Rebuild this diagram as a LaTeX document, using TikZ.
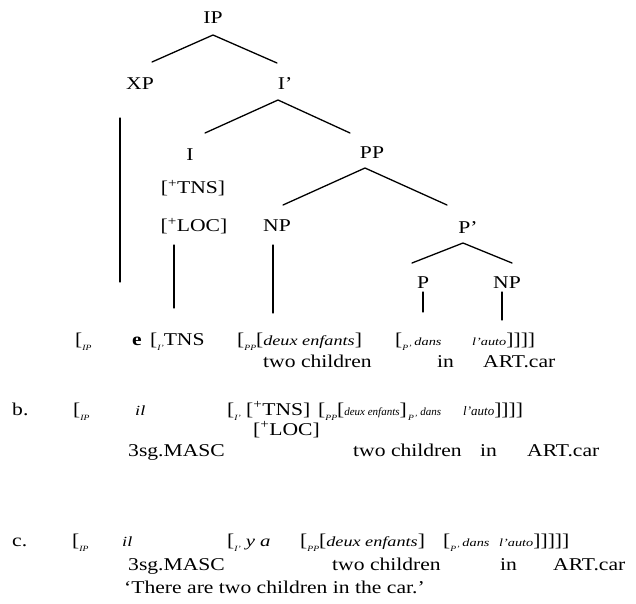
\documentclass[tikz,border=0pt]{standalone}
\usepackage{fontspec}
\setmainfont[FakeStretch=1.2]{Liberation Serif}
\newfontfamily\itf[FakeStretch=1.3]{Liberation Serif}
\newfontfamily\itn{Liberation Serif}
\newcommand\sbs[1]{\raisebox{-0.3em}{\fontsize{8}{8}\selectfont\itshape #1}}
\newcommand\itx[2][14]{{\itf\itshape\fontsize{#1}{#1}\selectfont #2}}
\newcommand\itb[2][11]{{\itn\itshape\fontsize{#1}{#1}\selectfont #2}}
\tikzset{
  lab/.style={inner sep=0pt, font=\fontsize{18}{20}\selectfont},
  wd/.style={anchor=base west, inner sep=0pt, font=\fontsize{18}{20}\selectfont},
  br/.style={line width=1.3pt, line cap=round}
}
\begin{document}
\begin{tikzpicture}[x=1pt,y=-1pt]
\useasboundingbox (0,0) rectangle (636,603);
% tree nodes
\node[lab] (IP) at (213,18) {IP};
\node[lab] (XP) at (140,84) {XP};
\node[lab] (Ib) at (285,84) {I’};
\node[lab] (I) at (190,155) {I};
\node[lab] (tns) at (193,188) {[\textsuperscript{+}TNS]};
\node[lab] (loc) at (194,226) {[\textsuperscript{+}LOC]};
\node[lab] (NPa) at (277,226) {NP};
\node[lab] (PP) at (372,153) {PP};
\node[lab] (Pb) at (468,228) {P’};
\node[lab] (P) at (423,283) {P};
\node[lab] (NPb) at (507,283) {NP};
% branch end points
\coordinate (ipL) at (152,62); \coordinate (ipR) at (277,63); \coordinate (ipT) at (213,35);
\coordinate (ibT) at (278,100); \coordinate (ibL) at (205,133); \coordinate (ibR) at (350,133);
\coordinate (ppT) at (365,168); \coordinate (ppL) at (283,205); \coordinate (ppR) at (447,205);
\coordinate (pbT) at (463,243); \coordinate (pbL) at (412,263); \coordinate (pbR) at (512,263);
\coordinate (xpT) at (120,118); \coordinate (xpB) at (120,282);
\coordinate (locT) at (174,245); \coordinate (locB) at (174,308);
\coordinate (npaT) at (273,245); \coordinate (npaB) at (273,313);
\coordinate (pT) at (423,292); \coordinate (pB) at (423,312);
\coordinate (npbT) at (502,292); \coordinate (npbB) at (502,320);
\draw[br] (ipL) -- (ipT) -- (ipR);
\draw[br] (ibL) -- (ibT) -- (ibR);
\draw[br] (ppL) -- (ppT) -- (ppR);
\draw[br] (pbL) -- (pbT) -- (pbR);
\draw[br] (xpT) -- (xpB);
\draw[br] (locT) -- (locB);
\draw[br] (npaT) -- (npaB);
\draw[br] (pT) -- (pB);
\draw[br] (npbT) -- (npbB);
% row a
\node[wd] (a1) at (75,345) {[\sbs{IP}};
\node[wd] (a2) at (132,345) {\textbf{e}};
\node[wd] (a3) at (150,345) {[\sbs{I’}TNS};
\node[wd] (a4) at (237,345) {[\sbs{PP}[\itx{deux enfants}]};
\node[wd] (a5) at (395,345) {[\sbs{P’}\,\itx[11]{dans}};
\node[wd] (a6) at (472,345) {\itx[11]{l’auto}]]]]};
\node[wd] (a7) at (263,367) {two children};
\node[wd] (a8) at (437,367) {in};
\node[wd] (a9) at (483,367) {ART.car};
% row b
\node[wd] (b0) at (12,415) {b.};
\node[wd] (b1) at (73,415) {[\sbs{IP}};
\node[wd] (b2) at (135,415) {\itx{il}};
\node[wd] (b3) at (227,415) {[\sbs{I’} [\textsuperscript{+}TNS]};
\node[wd] (b4) at (318,415) {[\sbs{PP}[\itb{deux enfants}]};
\node[wd] (b4b) at (408,415) {\sbs{P’}\,\itb{dans}};
\node[wd] (b5) at (463,415) {\itb[13]{l’auto}]]]]};
\node[wd] (b6) at (253,435) {[\textsuperscript{+}LOC]};
\node[wd] (b7) at (128,456) {3sg.MASC};
\node[wd] (b8) at (353,456) {two children};
\node[wd] (b9) at (480,456) {in};
\node[wd] (b10) at (527,456) {ART.car};
% row c
\node[wd] (c0) at (12,546) {c.};
\node[wd] (c1) at (72,546) {[\sbs{IP}};
\node[wd] (c2) at (122,546) {\itx{il}};
\node[wd] (c3) at (227,546) {[\sbs{I’}\;\itx[16]{y a}};
\node[wd] (c4) at (300,546) {[\sbs{PP}[\itx{deux enfants}]};
\node[wd] (c5) at (443,546) {[\sbs{P’}\,\itx[11]{dans}};
\node[wd] (c6) at (499,546) {\itx[11]{l’auto}]]]]]};
\node[wd] (c7) at (128,570) {3sg.MASC};
\node[wd] (c8) at (332,570) {two children};
\node[wd] (c9) at (500,570) {in};
\node[wd] (c10) at (553,570) {ART.car};
\node[wd] (c11) at (124,593) {‘There are two children in the car.’};
\end{tikzpicture}
\end{document}
